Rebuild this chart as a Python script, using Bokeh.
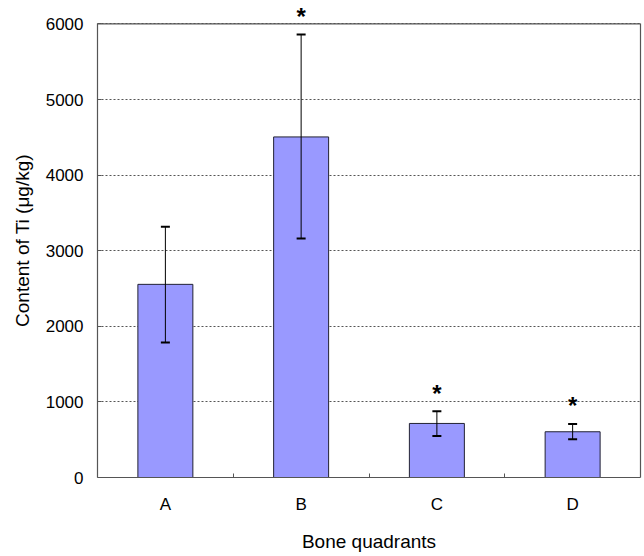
from bokeh.plotting import figure
from bokeh.models import ColumnDataSource, Whisker, TeeHead, Label, FixedTicker, LinearAxis, Span
from bokeh.embed import file_html
from bokeh.resources import INLINE

categories = ["A", "B", "C", "D"]
means = [2555, 4505, 715, 605]
upper = [3318, 5860, 875, 708]
lower = [1785, 3162, 548, 505]
signif = ["", "*", "*", "*"]
yticks = [0, 1000, 2000, 3000, 4000, 5000, 6000]

xpos = [i + 0.5 for i in range(len(categories))]
src = ColumnDataSource(dict(x=xpos, top=means, upper=upper, lower=lower, star=signif))

ymax = yticks[-1]
# extra headroom above the top tick so the asterisk over B can be drawn
p = figure(width=642, height=554, x_range=(0, len(categories)), y_range=(yticks[0], ymax * 1.045),
           output_backend="svg", toolbar_location=None,
           min_border_left=97, min_border_right=2, min_border_top=3, min_border_bottom=76)
p.background_fill_color = "white"
p.border_fill_color = "white"
p.outline_line_color = None

border_col = "#555555"

p.vbar(x="x", top="top", width=0.405, source=src, fill_color="#9999ff",
       line_color="#222233", line_width=1)

w = Whisker(base="x", upper="upper", lower="lower", source=src, dimension="height",
            line_color="black", line_width=1, level="annotation",
            upper_head=TeeHead(size=9, line_color="black", line_width=2),
            lower_head=TeeHead(size=9, line_color="black", line_width=2))
p.add_layout(w)

for xv, uv, s in zip(xpos, upper, signif):
    if s:
        p.add_layout(Label(x=xv, y=uv, text=s, text_align="center",
                           text_baseline="alphabetic", y_offset=18,
                           text_font="Liberation Sans", text_font_size="24px",
                           text_font_style="bold", text_color="black"))

# y axis
p.yaxis.ticker = FixedTicker(ticks=yticks)
p.yaxis.bounds = (yticks[0], ymax)
p.yaxis.axis_label = "Content of Ti (\u03bcg/kg)"
p.yaxis.axis_label_text_font = "Liberation Sans"
p.yaxis.axis_label_text_font_size = "19px"
p.yaxis.axis_label_text_font_style = "normal"
p.yaxis.axis_label_text_color = "black"
p.yaxis.axis_label_standoff = 10
p.yaxis.major_label_text_font = "Liberation Sans"
p.yaxis.major_label_text_font_size = "17px"
p.yaxis.major_label_text_color = "black"
p.yaxis.major_label_standoff = 14
p.yaxis.major_tick_in = 4
p.yaxis.major_tick_out = 0
p.yaxis.minor_tick_line_color = None
p.yaxis.axis_line_color = border_col
p.yaxis.axis_line_width = 1.2
p.yaxis.major_tick_line_color = border_col

# right border as a bare axis
rax = LinearAxis(ticker=FixedTicker(ticks=[]), bounds=(yticks[0], ymax),
                 axis_line_color=border_col, axis_line_width=1.2,
                 major_tick_line_color=None, minor_tick_line_color=None,
                 major_label_text_font_size="0px")
p.add_layout(rax, "right")

# top border at the highest tick
p.add_layout(Span(location=ymax, dimension="width", line_color=border_col, line_width=1.2))

# x axis
p.xaxis.ticker = FixedTicker(ticks=xpos, minor_ticks=[i for i in range(1, len(categories))])
p.xaxis.major_label_overrides = {x: c for x, c in zip(xpos, categories)}
p.xaxis.axis_label = "Bone quadrants"
p.xaxis.axis_label_text_font = "Liberation Sans"
p.xaxis.axis_label_text_font_size = "19px"
p.xaxis.axis_label_text_font_style = "normal"
p.xaxis.axis_label_text_color = "black"
p.xaxis.axis_label_standoff = 14
p.xaxis.major_label_text_font = "Liberation Sans"
p.xaxis.major_label_text_font_size = "17px"
p.xaxis.major_label_text_color = "black"
p.xaxis.major_label_standoff = 17
p.xaxis.major_tick_in = 0
p.xaxis.major_tick_out = 0
p.xaxis.minor_tick_in = 4
p.xaxis.minor_tick_out = 0
p.xaxis.minor_tick_line_color = border_col
p.xaxis.axis_line_color = border_col
p.xaxis.axis_line_width = 1.2

p.xgrid.visible = False
p.ygrid.grid_line_color = border_col
p.ygrid.grid_line_dash = "2 2"
p.ygrid.grid_line_width = 1

open("out.html", "w").write(file_html(p, INLINE))
